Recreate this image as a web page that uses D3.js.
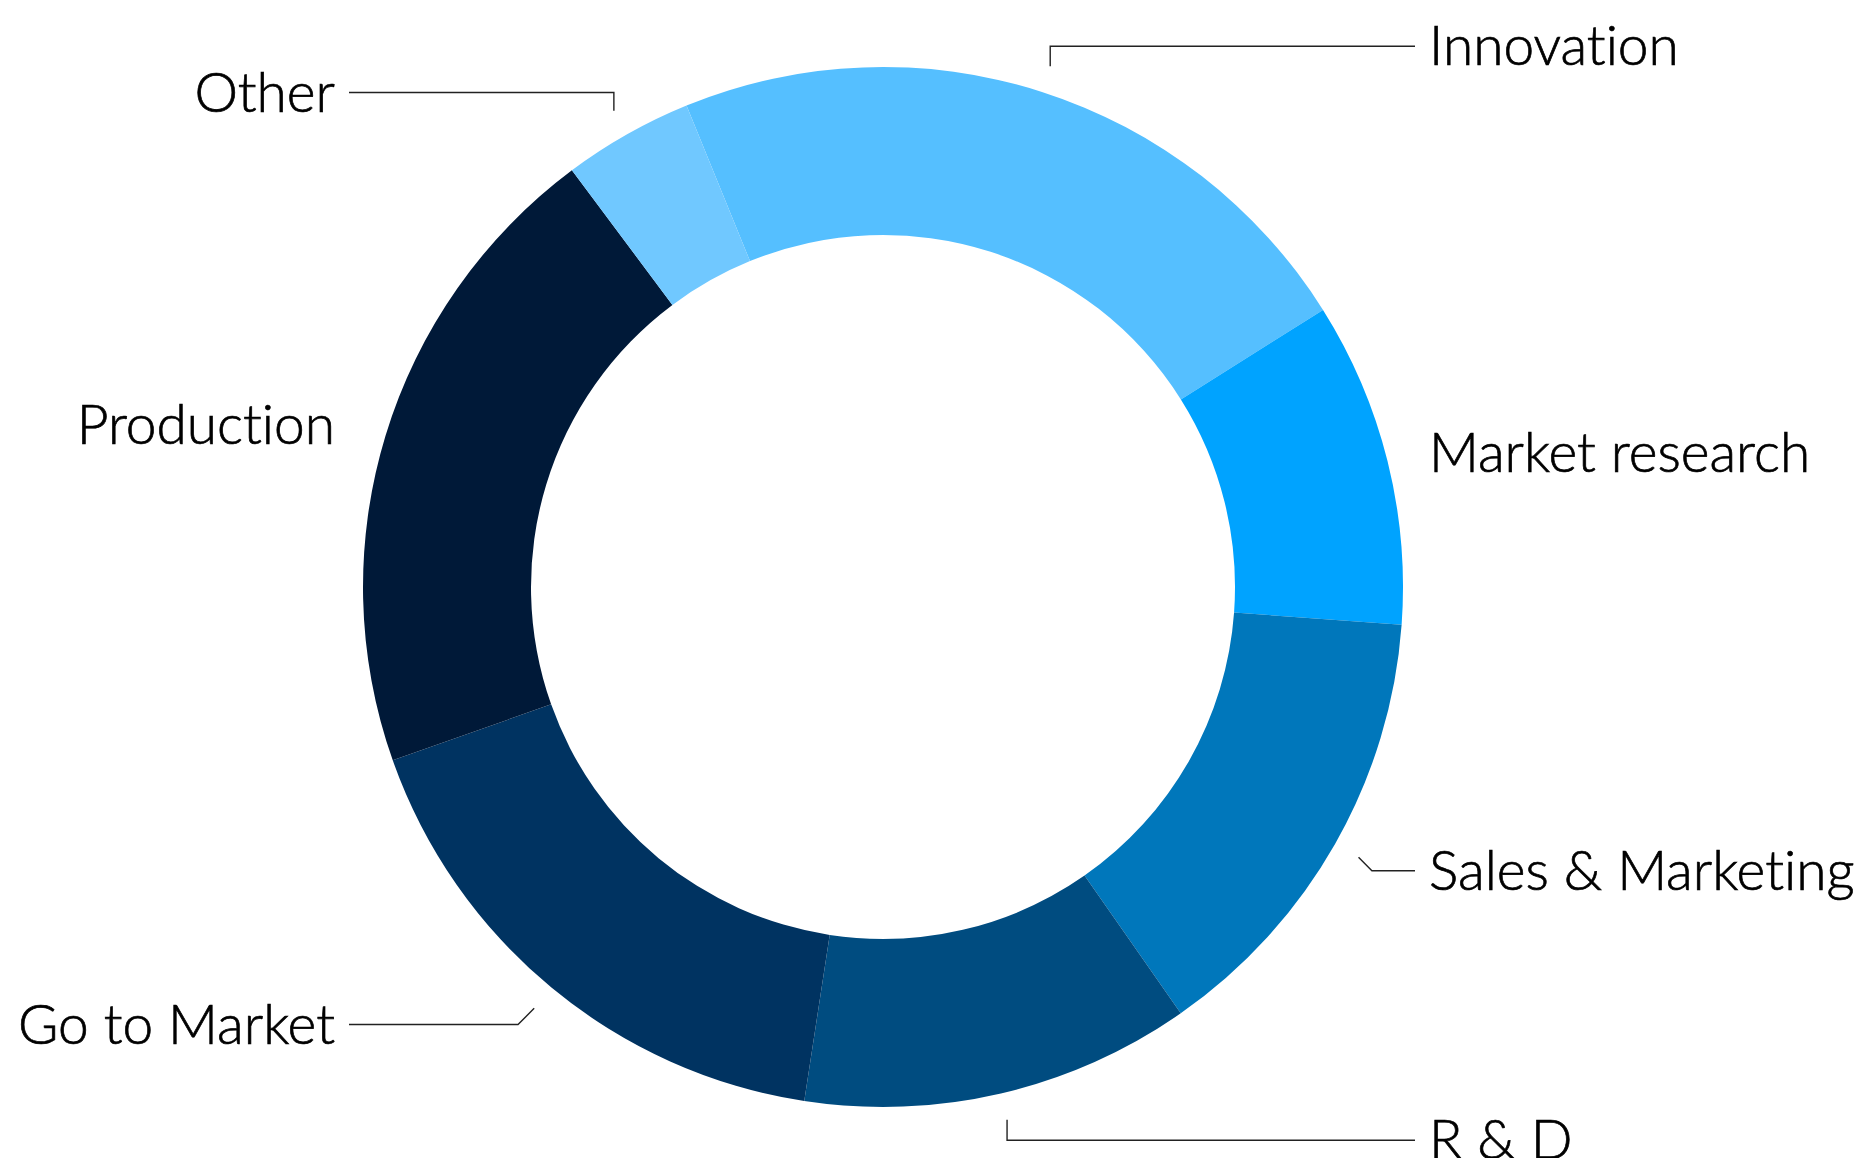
<!DOCTYPE html>
<html>
<head>
<meta charset="utf-8">
<script src="https://cdn.jsdelivr.net/npm/d3@7"></script>
<style>
  html, body { margin: 0; padding: 0; background: #fff; overflow: hidden; }
  svg { display: block; }
  text { font-family: Lato, "Open Sans", sans-serif; font-variant-ligatures: none; font-feature-settings: "liga" 0, "clig" 0; }
</style>
</head>
<body>
<svg id="chart" width="1873" height="1158"></svg>
<script>
const categories = ["Innovation", "Market research", "Sales & Marketing", "R & D", "Go to Market", "Production", "Other"];
const values = [22, 10, 14, 12, 17, 20, 4];
const colors = ["#55bfff", "#00a3ff", "#0077bb", "#004c80", "#003361", "#001938", "#70c8ff"];

const W = 1873, H = 1158;
const cx = 883, cy = 587;
const rOuter = 520, rInner = 352;
const rAnchor = 547, rLabel = 568;
const labelOffsetRight = 546, labelOffsetLeft = 548;
const startDeg = -22.2;

const svg = d3.select("#chart");
const g = svg.append("g").attr("transform", `translate(${cx},${cy})`);

const data = categories.map((c, i) => ({ name: c, value: values[i], color: colors[i] }));
const s = startDeg * Math.PI / 180;
const pie = d3.pie().value(d => d.value).sort(null).startAngle(s).endAngle(s + 2 * Math.PI);
const arc = d3.arc().innerRadius(rInner).outerRadius(rOuter);
const arcs = pie(data);

g.selectAll("path.slice").data(arcs).join("path")
  .attr("class", "slice")
  .attr("d", arc)
  .attr("fill", d => d.data.color);

arcs.forEach(d => {
  const mid = (d.startAngle + d.endAngle) / 2;
  const sn = Math.sin(mid), cs = Math.cos(mid);
  const side = sn >= 0 ? 1 : -1;
  const ax = rAnchor * sn, ay = -rAnchor * cs;
  const ly = -rLabel * cs + (Math.abs(cs) < 0.6 ? 3 : 0);
  const lx = side > 0 ? labelOffsetRight : -labelOffsetLeft;
  const lineEnd = lx - side * 14;
  const dy = ly - ay;
  const ex = Math.abs(sn) > 0.6 ? ax + side * Math.abs(dy) : ax;
  if (Math.abs(lineEnd - ax) > 20) {
    g.append("path")
      .attr("d", `M${ax},${ay}L${ex},${ly}L${lineEnd},${ly}`)
      .attr("fill", "none")
      .attr("stroke", "#222")
      .attr("stroke-width", 1.4);
  }
  g.append("text")
    .attr("x", lx)
    .attr("y", ly)
    .attr("dy", "0.35em")
    .attr("text-anchor", side > 0 ? "start" : "end")
    .attr("font-size", 55)
    .attr("font-weight", 300)
    .attr("fill", "#000")
    .attr("stroke", "#000")
    .attr("stroke-width", 0.7)
    .text(d.data.name);
});
</script>
</body>
</html>
